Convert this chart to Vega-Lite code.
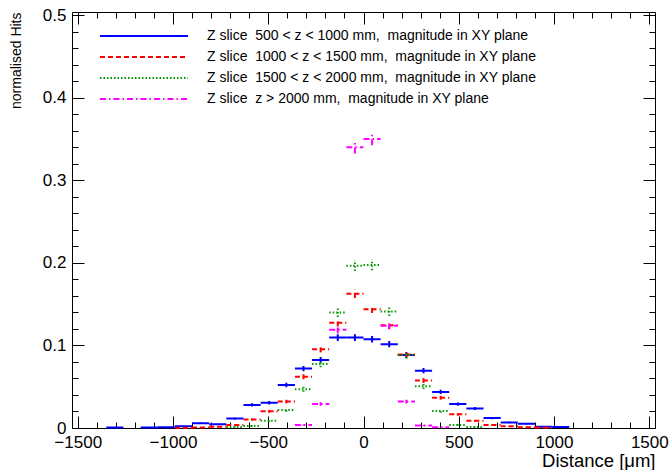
{
  "$schema": "https://vega.github.io/schema/vega-lite/v6.json",
  "autosize": {"type": "none"},
  "padding": {"left": 72, "top": 12, "right": 16, "bottom": 42},
  "width": 583,
  "height": 416,
  "background": "white",
  "config": {
    "view": {"stroke": "black", "strokeWidth": 1},
    "font": "Liberation Sans",
    "axis": {"grid": false, "domain": false, "tickColor": "black", "labelColor": "black", "titleColor": "black", "labelFont": "Liberation Sans", "titleFont": "Liberation Sans", "labelFontSize": 17, "titleFontSize": 15, "titleFontWeight": "normal", "tickWidth": 1}
  },
  "data": {"values": [
    {"s":"a","lo":-1350,"hi":-1260,"c":-1305,"v":0.0005,"e":0.0003},
    {"s":"a","lo":-1170,"hi":-1080,"c":-1125,"v":0.0006,"e":0.0003},
    {"s":"a","lo":-1080,"hi":-990,"c":-1035,"v":0.0009,"e":0.0004},
    {"s":"a","lo":-990,"hi":-900,"c":-945,"v":0.002,"e":0.0005},
    {"s":"a","lo":-900,"hi":-810,"c":-855,"v":0.0057,"e":0.0009},
    {"s":"a","lo":-810,"hi":-720,"c":-765,"v":0.0045,"e":0.0008},
    {"s":"a","lo":-720,"hi":-630,"c":-675,"v":0.0115,"e":0.0013},
    {"s":"a","lo":-630,"hi":-540,"c":-585,"v":0.028,"e":0.002},
    {"s":"a","lo":-540,"hi":-450,"c":-495,"v":0.0305,"e":0.0021},
    {"s":"a","lo":-450,"hi":-360,"c":-405,"v":0.052,"e":0.0027},
    {"s":"a","lo":-360,"hi":-270,"c":-315,"v":0.072,"e":0.0032},
    {"s":"a","lo":-270,"hi":-180,"c":-225,"v":0.0825,"e":0.0035},
    {"s":"a","lo":-180,"hi":-90,"c":-135,"v":0.1095,"e":0.004},
    {"s":"a","lo":-90,"hi":0,"c":-45,"v":0.1095,"e":0.004},
    {"s":"a","lo":0,"hi":90,"c":45,"v":0.1075,"e":0.004},
    {"s":"a","lo":90,"hi":180,"c":135,"v":0.1015,"e":0.0038},
    {"s":"a","lo":180,"hi":270,"c":225,"v":0.0885,"e":0.0036},
    {"s":"a","lo":270,"hi":360,"c":315,"v":0.0695,"e":0.0032},
    {"s":"a","lo":360,"hi":450,"c":405,"v":0.0437,"e":0.0025},
    {"s":"a","lo":450,"hi":540,"c":495,"v":0.029,"e":0.002},
    {"s":"a","lo":540,"hi":630,"c":585,"v":0.0236,"e":0.0018},
    {"s":"a","lo":630,"hi":720,"c":675,"v":0.012,"e":0.0013},
    {"s":"a","lo":720,"hi":810,"c":765,"v":0.0068,"e":0.001},
    {"s":"a","lo":810,"hi":900,"c":855,"v":0.005,"e":0.0008},
    {"s":"a","lo":900,"hi":990,"c":945,"v":0.0016,"e":0.0005},
    {"s":"a","lo":990,"hi":1080,"c":1035,"v":0.0012,"e":0.0004},
    {"s":"b","lo":-990,"hi":-900,"c":-945,"v":0.0003,"e":0.0002},
    {"s":"b","lo":-900,"hi":-810,"c":-855,"v":0.0006,"e":0.0003},
    {"s":"b","lo":-810,"hi":-720,"c":-765,"v":0.0016,"e":0.0005},
    {"s":"b","lo":-720,"hi":-630,"c":-675,"v":0.0035,"e":0.0007},
    {"s":"b","lo":-630,"hi":-540,"c":-585,"v":0.0102,"e":0.0013},
    {"s":"b","lo":-540,"hi":-450,"c":-495,"v":0.0202,"e":0.0018},
    {"s":"b","lo":-450,"hi":-360,"c":-405,"v":0.032,"e":0.0022},
    {"s":"b","lo":-360,"hi":-270,"c":-315,"v":0.0622,"e":0.0031},
    {"s":"b","lo":-270,"hi":-180,"c":-225,"v":0.0955,"e":0.0039},
    {"s":"b","lo":-180,"hi":-90,"c":-135,"v":0.1275,"e":0.0045},
    {"s":"b","lo":-90,"hi":0,"c":-45,"v":0.1625,"e":0.005},
    {"s":"b","lo":0,"hi":90,"c":45,"v":0.144,"e":0.0047},
    {"s":"b","lo":90,"hi":180,"c":135,"v":0.1245,"e":0.0044},
    {"s":"b","lo":180,"hi":270,"c":225,"v":0.089,"e":0.0037},
    {"s":"b","lo":270,"hi":360,"c":315,"v":0.0575,"e":0.003},
    {"s":"b","lo":360,"hi":450,"c":405,"v":0.0367,"e":0.0024},
    {"s":"b","lo":450,"hi":540,"c":495,"v":0.0166,"e":0.0016},
    {"s":"b","lo":540,"hi":630,"c":585,"v":0.0087,"e":0.0012},
    {"s":"b","lo":630,"hi":720,"c":675,"v":0.0036,"e":0.0008},
    {"s":"b","lo":720,"hi":810,"c":765,"v":0.002,"e":0.0006},
    {"s":"b","lo":810,"hi":900,"c":855,"v":0.001,"e":0.0004},
    {"s":"b","lo":900,"hi":990,"c":945,"v":0.0005,"e":0.0003},
    {"s":"c","lo":-720,"hi":-630,"c":-675,"v":0.0012,"e":0.0005},
    {"s":"c","lo":-630,"hi":-540,"c":-585,"v":0.0025,"e":0.0007},
    {"s":"c","lo":-540,"hi":-450,"c":-495,"v":0.0088,"e":0.0014},
    {"s":"c","lo":-450,"hi":-360,"c":-405,"v":0.0218,"e":0.0021},
    {"s":"c","lo":-360,"hi":-270,"c":-315,"v":0.047,"e":0.0031},
    {"s":"c","lo":-270,"hi":-180,"c":-225,"v":0.0776,"e":0.004},
    {"s":"c","lo":-180,"hi":-90,"c":-135,"v":0.1398,"e":0.0054},
    {"s":"c","lo":-90,"hi":0,"c":-45,"v":0.1967,"e":0.0064},
    {"s":"c","lo":0,"hi":90,"c":45,"v":0.1976,"e":0.0064},
    {"s":"c","lo":90,"hi":180,"c":135,"v":0.141,"e":0.0054},
    {"s":"c","lo":180,"hi":270,"c":225,"v":0.0885,"e":0.0043},
    {"s":"c","lo":270,"hi":360,"c":315,"v":0.0505,"e":0.0033},
    {"s":"c","lo":360,"hi":450,"c":405,"v":0.0206,"e":0.0021},
    {"s":"c","lo":450,"hi":540,"c":495,"v":0.0036,"e":0.0009},
    {"s":"c","lo":540,"hi":630,"c":585,"v":0.0012,"e":0.0005},
    {"s":"d","lo":-360,"hi":-270,"c":-315,"v":0.0035,"e":0.0008},
    {"s":"d","lo":-270,"hi":-180,"c":-225,"v":0.029,"e":0.0022},
    {"s":"d","lo":-180,"hi":-90,"c":-135,"v":0.119,"e":0.0044},
    {"s":"d","lo":-90,"hi":0,"c":-45,"v":0.34,"e":0.0074},
    {"s":"d","lo":0,"hi":90,"c":45,"v":0.35,"e":0.0075},
    {"s":"d","lo":90,"hi":180,"c":135,"v":0.124,"e":0.0045},
    {"s":"d","lo":180,"hi":270,"c":225,"v":0.032,"e":0.0023},
    {"s":"d","lo":270,"hi":360,"c":315,"v":0.003,"e":0.0007},
    {"s":"d","lo":360,"hi":450,"c":405,"v":0.0008,"e":0.0004}
  ]},
  "resolve": {"axis": {"x": "independent", "y": "independent"}},
  "layer": [
    {
      "mark": {"type": "rule", "strokeWidth": 2},
      "encoding": {
        "x": {"field": "lo", "type": "quantitative", "scale": {"domain": [-1530, 1530], "nice": false, "zero": false},
          "axis": {"orient": "bottom", "values": [-1500, -1000, -500, 0, 500, 1000, 1500], "format": "d", "tickSize": -12, "labelPadding": 18, "title": "Distance [μm]", "titleFontSize": 18.5, "titleAnchor": "end", "titlePadding": 1}},
        "x2": {"field": "hi"},
        "y": {"field": "v", "type": "quantitative", "scale": {"domain": [0, 0.504], "nice": false, "zero": false},
          "axis": {"orient": "left", "values": [0, 0.1, 0.2, 0.3, 0.4, 0.5], "labelExpr": "datum.value == 0 ? '0' : format(datum.value, '.1f')", "tickSize": -12, "labelPadding": 18, "title": "normalised Hits", "titleFontSize": 14, "titleAnchor": "end", "titlePadding": 19}},
        "color": {"field": "s", "type": "nominal", "scale": {"domain": ["a", "b", "c", "d"], "range": ["#0000ff", "#ff0000", "#009900", "#ff00ff"]},
          "legend": {"title": null, "orient": "none", "legendX": 61, "legendY": 13, "symbolType": "M-4.4,0H4.4", "symbolSize": 400, "symbolStrokeWidth": 2, "symbolFillColor": "transparent", "labelFont": "Liberation Sans", "labelFontSize": 14, "labelColor": "black", "labelOffset": 52, "rowPadding": 3, "labelLimit": 500,
            "labelExpr": "datum.label == 'a' ? 'Z slice\u00a0\u00a0500 < z < 1000 mm,\u00a0\u00a0magnitude in XY plane' : datum.label == 'b' ? 'Z slice\u00a0\u00a01000 < z < 1500 mm,\u00a0\u00a0magnitude in XY plane' : datum.label == 'c' ? 'Z slice\u00a0\u00a01500 < z < 2000 mm,\u00a0\u00a0magnitude in XY plane' : 'Z slice\u00a0\u00a0z > 2000 mm,\u00a0\u00a0magnitude in XY plane'"}},
        "strokeDash": {"field": "s", "type": "nominal", "scale": {"domain": ["a", "b", "c", "d"], "range": [[1, 0], [5, 3], [1.5, 2], [6, 3, 1.5, 3]]}}
      }
    },
    {
      "mark": {"type": "errorbar", "thickness": 2},
      "encoding": {
        "x": {"field": "c", "type": "quantitative",
          "axis": {"orient": "bottom", "values": [-1500, -1400, -1300, -1200, -1100, -1000, -900, -800, -700, -600, -500, -400, -300, -200, -100, 0, 100, 200, 300, 400, 500, 600, 700, 800, 900, 1000, 1100, 1200, 1300, 1400, 1500], "tickSize": -6, "labels": false, "title": null}},
        "y": {"field": "v", "type": "quantitative",
          "axis": {"orient": "left", "values": [0, 0.02, 0.04, 0.06, 0.08, 0.1, 0.12, 0.14, 0.16, 0.18, 0.2, 0.22, 0.24, 0.26, 0.28, 0.3, 0.32, 0.34, 0.36, 0.38, 0.4, 0.42, 0.44, 0.46, 0.48, 0.5], "tickSize": -6, "labels": false, "title": null}},
        "yError": {"field": "e"},
        "color": {"field": "s", "type": "nominal"},
        "strokeDash": {"field": "s", "type": "nominal"}
      }
    },
    {
      "mark": {"type": "rule", "opacity": 0},
      "encoding": {
        "x": {"field": "lo", "type": "quantitative",
          "axis": {"orient": "top", "values": [-1500, -1000, -500, 0, 500, 1000, 1500], "tickSize": -12, "labels": false, "title": null}},
        "x2": {"field": "hi"},
        "y": {"field": "v", "type": "quantitative",
          "axis": {"orient": "right", "values": [0, 0.1, 0.2, 0.3, 0.4, 0.5], "tickSize": -12, "labels": false, "title": null}}
      }
    },
    {
      "mark": {"type": "rule", "opacity": 0},
      "encoding": {
        "x": {"field": "lo", "type": "quantitative",
          "axis": {"orient": "top", "values": [-1500, -1400, -1300, -1200, -1100, -1000, -900, -800, -700, -600, -500, -400, -300, -200, -100, 0, 100, 200, 300, 400, 500, 600, 700, 800, 900, 1000, 1100, 1200, 1300, 1400, 1500], "tickSize": -6, "labels": false, "title": null}},
        "x2": {"field": "hi"},
        "y": {"field": "v", "type": "quantitative",
          "axis": {"orient": "right", "values": [0, 0.02, 0.04, 0.06, 0.08, 0.1, 0.12, 0.14, 0.16, 0.18, 0.2, 0.22, 0.24, 0.26, 0.28, 0.3, 0.32, 0.34, 0.36, 0.38, 0.4, 0.42, 0.44, 0.46, 0.48, 0.5], "tickSize": -6, "labels": false, "title": null}}
      }
    }
  ]
}
